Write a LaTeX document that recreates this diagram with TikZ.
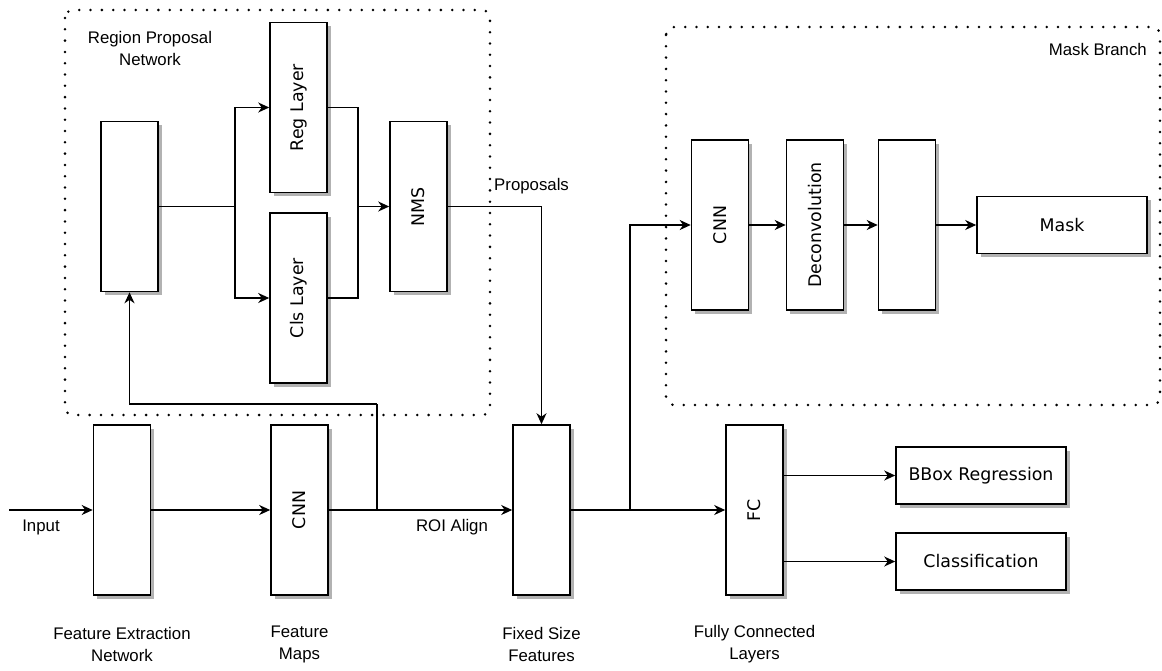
\documentclass[tikz,border=0pt]{standalone}
\usepackage{fontspec}
\setmainfont{DejaVu Sans}
\newfontfamily\labfont{Liberation Sans}
\usetikzlibrary{arrows.meta,shadows,calc}
\tikzset{
  box/.style={draw, line width=1.6pt, fill=white, inner sep=0pt,
    drop shadow={shadow xshift=3.5pt, shadow yshift=-3.5pt, fill=black!30, opacity=1},
    font=\fontsize{17.4}{20}\selectfont},
  vbox/.style={box, minimum width=57pt, minimum height=170pt},
  hbox/.style={box, minimum width=170pt, minimum height=57pt},
  arr/.style={draw, line width=1.5pt, -{Stealth[length=11pt, width=10pt, inset=3.5pt]}},
  ln/.style={draw, line width=1.5pt},
  grp/.style={draw, line width=2.8pt, dash pattern=on 0pt off 11.3pt, line cap=round, rounded corners=8pt},
  lab/.style={font=\labfont\fontsize{16.8}{22}\selectfont, align=center, inner sep=0pt},
}
\begin{document}
\begin{tikzpicture}[x=1pt,y=-1pt]
\useasboundingbox (0,0) rectangle (1162,670);
% group frames
\draw[grp] (65,10) rectangle (490,415);
\draw[grp] (666,27) rectangle (1160,405);
\node[lab] (rpnlab) at (150,48) {Region Proposal\\Network};
\node[lab, anchor=east] (mblab) at (1147,49) {Mask Branch};

% RPN
\node[vbox] (rpnl) at (129.5,206.5) {};
\node[vbox] (reg) at (298.5,107.5) {\rotatebox{90}{Reg Layer}};
\node[vbox] (cls) at (298.5,298) {\rotatebox{90}{Cls Layer}};
\node[vbox] (nms) at (418.5,206.5) {\rotatebox{90}{NMS}};

% main row
\node[vbox] (fe) at (122,510) {};
\node[vbox] (cnn) at (299.5,510) {\rotatebox{90}{CNN}};
\node[vbox] (fixed) at (541.5,510) {};
\node[vbox] (fc) at (754.5,510) {\rotatebox{90}{FC}};
\node[hbox] (bbox) at (981,475.5) {BBox Regression};
\node[hbox] (clsf) at (981,561.5) {Classification};

% mask branch
\node[vbox] (mcnn) at (720,225) {\rotatebox{90}{CNN}};
\node[vbox] (deconv) at (815,225) {\rotatebox{90}{Deconvolution}};
\node[vbox] (mempty) at (907,225) {};
\node[hbox] (mask) at (1062,225) {Mask};

% labels
\node[lab] (inlab) at (41,527) {Input};
\node[lab] (roilab) at (452,527) {ROI Align};
\node[lab, anchor=west] (proplab) at (494,186) {Proposals};
\node[lab] (felab) at (122,644) {Feature Extraction\\Network};
\node[lab] (fmlab) at (299.5,644) {Feature\\Maps};
\node[lab] (fslab) at (541.5,644) {Fixed Size\\Features};
\node[lab] (fclab) at (754.5,644) {Fully Connected\\Layers};

% coordinates
\coordinate (inp) at (9,510);
\coordinate (j1) at (377,510);
\coordinate (k1) at (377,404);
\coordinate (s1) at (235,206.5);
\coordinate (m1) at (358,206.5);
\coordinate (j2) at (630,510);

% connectors
\draw[arr] (inp) -- (fe.west);
\draw[arr] (fe.east) -- (cnn.west);
\draw[arr] (cnn.east) -- (fixed.west);
\draw[ln] (j1) -- (k1);
\draw[arr] (k1) -| (rpnl.south);
\draw[ln] (rpnl.east) -- (s1);
\draw[arr] (s1) |- (reg.west);
\draw[arr] (s1) |- (cls.west);
\draw[ln] (reg.east) -| (m1) |- (cls.east);
\draw[arr] (m1) -- (nms.west);
\draw[arr] (nms.east) -| (fixed.north);
\draw[arr] (fixed.east) -- (fc.west);
\draw[arr] (j2) |- (mcnn.west);
\draw[arr] (mcnn.east) -- (deconv.west);
\draw[arr] (deconv.east) -- (mempty.west);
\draw[arr] (mempty.east) -- (mask.west);
\draw[arr] (fc.east |- bbox.west) -- (bbox.west);
\draw[arr] (fc.east |- clsf.west) -- (clsf.west);
\end{tikzpicture}
\end{document}
